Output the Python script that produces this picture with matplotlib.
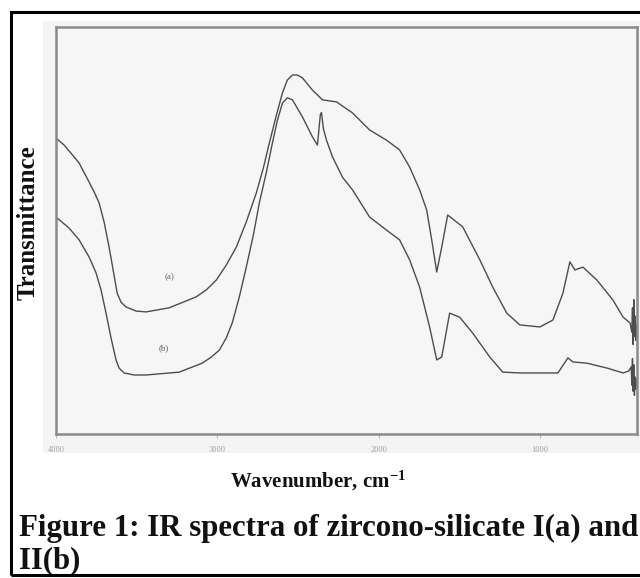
import matplotlib
matplotlib.use("Agg")
import matplotlib.pyplot as plt
from matplotlib.patches import Rectangle

plt.rcParams["font.family"] = ["Liberation Serif", "DejaVu Serif"]
plt.rcParams["mathtext.fontset"] = "custom"
plt.rcParams["mathtext.rm"] = "Liberation Serif"
plt.rcParams["mathtext.bf"] = "Liberation Serif:bold"
plt.rcParams["mathtext.default"] = "bf"

# spectrum (a) - zircono-silicate I
wn_a = [4000, 3950, 3907, 3857, 3808, 3764, 3733, 3702, 3671, 3646, 3621, 3597,
        3566, 3503, 3441, 3299, 3131, 3069, 3007, 2945, 2883, 2821, 2759, 2715,
        2678, 2634, 2597, 2566, 2535, 2504, 2473, 2411, 2349, 2262, 2163, 2057,
        1952, 1871, 1809, 1747, 1703, 1672, 1641, 1610, 1573, 1480, 1374, 1294,
        1207, 1126, 1002, 921, 859, 816, 785, 735, 648, 549, 486, 443, 432, 428,
        424, 420, 416, 412, 408, 404, 400]
tr_a = [72.7, 71.0, 69.0, 66.6, 62.9, 59.5, 56.8, 52.1, 45.9, 40.3, 34.6, 32.4,
        31.2, 30.2, 30.0, 31.0, 33.7, 35.4, 37.8, 41.5, 45.9, 52.1, 59.2, 65.4,
        71.5, 78.4, 83.8, 87.0, 88.2, 88.2, 87.5, 84.5, 82.1, 81.6, 78.9, 74.7,
        72.2, 69.8, 65.6, 60.0, 55.0, 47.7, 39.8, 45.9, 53.8, 50.9, 42.8, 36.1,
        29.7, 26.8, 26.3, 28.0, 34.6, 42.3, 40.3, 41.0, 37.8, 32.9, 28.7, 27.3,
        25.0, 31.0, 22.0, 33.0, 24.0, 29.0, 23.0, 27.0, 25.0]

# spectrum (b) - zircono-silicate II
wn_b = [4000, 3919, 3857, 3795, 3752, 3721, 3690, 3659, 3628, 3609, 3578, 3516,
        3441, 3237, 3094, 3038, 2988, 2945, 2908, 2864, 2821, 2777, 2740, 2696,
        2659, 2628, 2597, 2566, 2535, 2473, 2411, 2380, 2362, 2355, 2343, 2324,
        2287, 2225, 2163, 2057, 1952, 1871, 1809, 1747, 1685, 1641, 1610, 1561,
        1499, 1418, 1312, 1232, 1126, 890, 828, 797, 710, 586, 486, 450, 436,
        432, 428, 424, 420, 416, 412, 408, 404, 400]
tr_b = [53.3, 50.6, 47.7, 43.5, 39.6, 35.4, 29.7, 23.6, 18.2, 16.2, 15.0, 14.5,
        14.5, 15.2, 17.4, 18.9, 20.6, 23.6, 27.3, 33.7, 41.0, 48.9, 56.8, 64.4,
        71.5, 77.1, 81.3, 82.6, 82.1, 77.9, 73.0, 71.0, 78.5, 79.0, 75.0, 72.2,
        68.1, 63.1, 60.0, 53.3, 50.1, 47.7, 42.8, 36.1, 26.3, 18.2, 18.9, 29.7,
        28.7, 24.8, 18.9, 15.2, 15.0, 15.0, 18.7, 17.7, 17.4, 16.2, 15.0, 15.5,
        16.5, 12.0, 18.5, 10.5, 17.0, 9.5, 14.0, 11.0, 13.5, 12.0]

ticks = [4000, 3000, 2000, 1000]
tick_labels = ["4000", "3000", "2000", "1000"]

W, H = 640, 578
fig = plt.figure(figsize=(6.4, 5.78), dpi=100)

def fx(px):
    return px / W

def fy(py):
    return 1 - py / H

# scanned picture background
fig.patches.append(Rectangle((fx(43), fy(453)), fx(640) - fx(43), fy(21) - fy(453),
                             transform=fig.transFigure, facecolor="#f4f4f4",
                             edgecolor="none", zorder=0))
# outer box
fig.patches.append(Rectangle((fx(11), fy(575)), fx(660) - fx(11), fy(12) - fy(575),
                             transform=fig.transFigure, fill=False,
                             edgecolor="black", linewidth=2.2, zorder=5))

ax = fig.add_axes([fx(56), fy(434), fx(637) - fx(56), fy(27) - fy(434)])
ax.set_zorder(2)
ax.set_facecolor("#f6f6f6")
ax.plot(wn_a, tr_a, color="#4d4d4d", linewidth=1.0)
ax.plot(wn_b, tr_b, color="#4d4d4d", linewidth=1.0)
ax.set_xlim(4000, 400)
ax.set_ylim(0, 100)
ax.set_xticks(ticks)
ax.set_xticklabels(tick_labels, fontsize=6, color="#a0a0a0")
ax.tick_params(axis="x", length=3, width=0.6, color="#aaaaaa", pad=6)
ax.set_yticks([])
for s in ax.spines.values():
    s.set_color("#8a8a8a")
    s.set_linewidth(1.8)

ax.text(3299, 38.6, "(a)", fontsize=6.5, color="#606060", ha="center", va="center")
ax.text(3330, 21.1, "(b)", fontsize=6.5, color="#606060", ha="center", va="center")

fig.text(fx(28), fy(223), "Transmittance", rotation=90, ha="center", va="center",
         fontsize=18, fontweight="bold", color="#111111")
fig.text(fx(318), fy(481), "Wavenumber, cm$^{-1}$", ha="center", va="center",
         fontsize=15, fontweight="bold", color="#111111")
fig.text(fx(19), fy(528), "Figure 1: IR spectra of zircono-silicate I(a) and",
         ha="left", va="center", fontsize=22.2, fontweight="bold", color="#111111")
fig.text(fx(19), fy(561), "II(b)", ha="left", va="center",
         fontsize=22.2, fontweight="bold", color="#111111")

fig.savefig("out.png", dpi=100)
